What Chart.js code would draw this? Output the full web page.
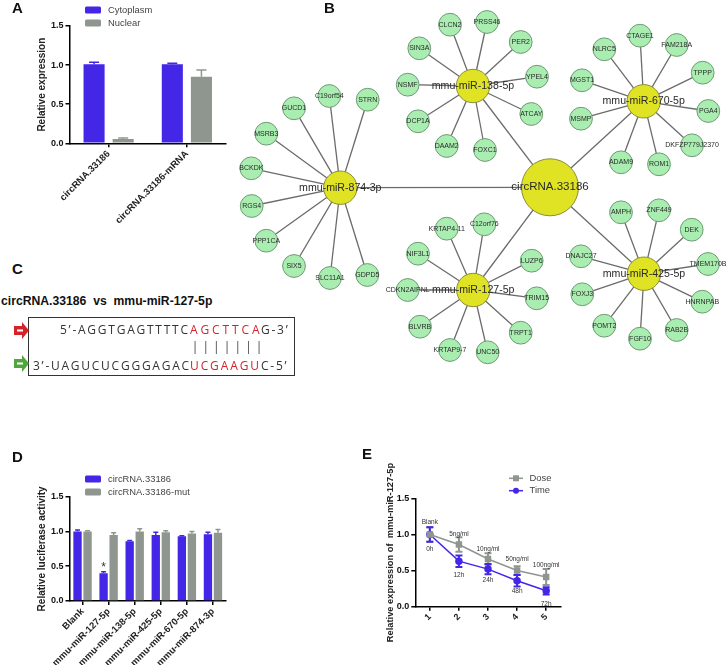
<!DOCTYPE html>
<html>
<head>
<meta charset="utf-8">
<title>circRNA.33186 figure</title>
<script src="https://cdn.jsdelivr.net/npm/chart.js@4"></script>
<style>
  html, body { margin: 0; padding: 0; background: #fff; }
  #page { position: relative; width: 728px; height: 665px; overflow: hidden; font-family: "Liberation Sans", Arial, sans-serif; }
  canvas { position: absolute; }
  .letter { position: absolute; font-weight: bold; font-size: 15px; line-height: 15px; color: #111; }
  #cTitle { position: absolute; left: 1px; top: 294px; font-weight: bold; font-size: 12.2px; line-height: 14px; white-space: pre; color: #111; }
  #cBox { position: absolute; left: 28px; top: 317px; width: 265px; height: 57px; border: 1.5px solid #333; }
  .seq { position: absolute; font-family: "Open Sans", sans-serif; font-size: 12px; line-height: 14px; letter-spacing: 1.75px; white-space: pre; color: #333; }
  .seq.red { color: #d3242c; letter-spacing: 2.9px; }
  svg { position: absolute; }
</style>
</head>
<body>
<div id="page">
  <canvas id="chartB" width="503" height="365" style="left:225px;top:0"></canvas>
  <canvas id="chartA" width="235" height="230" style="left:0;top:0"></canvas>
  <canvas id="chartD" width="235" height="225" style="left:0;top:440px"></canvas>
  <canvas id="chartE" width="225" height="225" style="left:370px;top:440px"></canvas>

  <div class="letter" style="left:12px;top:0">A</div>
  <div class="letter" style="left:324px;top:0">B</div>
  <div class="letter" style="left:12px;top:261px">C</div>
  <div class="letter" style="left:12px;top:449px">D</div>
  <div class="letter" style="left:362px;top:446px">E</div>

  <div id="cTitle">circRNA.33186  vs  mmu-miR-127-5p</div>
  <div id="cBox"></div>
  <div class="seq" style="left:60px;top:323px">5’-AGGTGAGTTTTC</div>
  <div class="seq red" style="left:190px;top:323px">AGCTTCA</div>
  <div class="seq" style="left:261px;top:323px">G-3’</div>
  <div class="seq" style="left:33px;top:359px">3’-UAGUCUCGGGAGAC</div>
  <div class="seq red" style="left:190px;top:359px;letter-spacing:1.9px">UCGAAGU</div>
  <div class="seq" style="left:261px;top:359px">C-5’</div>
  <div class="seq" style="left:191.7px;top:340px;letter-spacing:4.1px;color:#444">|||||||</div>
  <svg style="left:14px;top:322px" width="16" height="17" viewBox="0 0 16 17">
    <polygon points="0,4 8,4 8,0 15,8.5 8,17 8,13 0,13" fill="#d3242c"/>
    <rect x="3" y="7.5" width="6" height="2" fill="#fff"/>
  </svg>
  <svg style="left:14px;top:355px" width="16" height="17" viewBox="0 0 16 17">
    <polygon points="0,4 8,4 8,0 15,8.5 8,17 8,13 0,13" fill="#4fa63d"/>
    <rect x="3" y="7.5" width="6" height="2" fill="#fff"/>
  </svg>
</div>

<script>
'use strict';

// ── Panel A data ──────────────────────────────────────────────────────────────
const fractionCategories = ['circRNA.33186', 'circRNA.33186-mRNA'];
const cytoplasmValues = [1.01, 1.01];
const cytoplasmErrors = [0.026, 0.014];
const nuclearValues = [0.055, 0.852];
const nuclearErrors = [0.013, 0.085];

// ── Panel D data ──────────────────────────────────────────────────────────────
const luciferaseCategories = ['Blank', 'mmu-miR-127-5p', 'mmu-miR-138-5p', 'mmu-miR-425-5p', 'mmu-miR-670-5p', 'mmu-miR-874-3p'];
const wildTypeValues = [1.0, 0.40, 0.86, 0.95, 0.93, 0.96];
const wildTypeErrors = [0.02, 0.02, 0.01, 0.04, 0.01, 0.03];
const mutantValues = [1.0, 0.95, 1.0, 0.99, 0.97, 0.98];
const mutantErrors = [0.01, 0.03, 0.04, 0.02, 0.03, 0.05];

// ── Panel E data ──────────────────────────────────────────────────────────────
const stepCategories = ['1', '2', '3', '4', '5'];
const doseValues = [1.0, 0.86, 0.66, 0.50, 0.41];
const doseErrors = [0.10, 0.10, 0.08, 0.06, 0.11];
const timeValues = [1.0, 0.63, 0.52, 0.36, 0.22];
const timeErrors = [0.10, 0.08, 0.07, 0.08, 0.05];
const doseNotes = ['Blank', '5ng/ml', '10ng/ml', '50ng/ml', '100ng/ml'];
const doseNoteValues = [1.17, 1.01, 0.80, 0.66, 0.58];
const timeNotes = ['0h', '12h', '24h', '48h', '72h'];
const timeNoteValues = [0.80, 0.44, 0.37, 0.22, 0.04];

// ── Panel B data: hubs and their targets, in graph units ──────────────────────
const rootName = 'circRNA.33186';
const rootX = 550;
const rootY = 187.3;

const mir874Name = 'mmu-miR-874-3p';
const mir874Hub = [340.3, 187.7];
const mir874Genes = ['C19orf54', 'STRN', 'GUCD1', 'MSRB3', 'BCKDK', 'RGS4', 'PPP1CA', 'SIX5', 'SLC11A1', 'GDPD5'];
const mir874X = [329.3, 367.7, 294, 266.3, 251.3, 251.7, 266.3, 294, 330, 367.3];
const mir874Y = [96, 99.7, 108.3, 133.7, 168.3, 206, 240.7, 266, 278, 275];

const mir138Name = 'mmu-miR-138-5p';
const mir138Hub = [473, 86];
const mir138Genes = ['CLCN2', 'PRSS46', 'SIN3A', 'PER2', 'NSMF', 'YPEL4', 'DCP1A', 'ATCAY', 'DAAM2', 'FOXC1'];
const mir138X = [450, 487, 419.3, 520.7, 407.7, 537, 418, 531.3, 446.7, 485];
const mir138Y = [24.7, 22, 48.3, 42, 84.7, 76.7, 121.3, 114, 146, 150];

const mir670Name = 'mmu-miR-670-5p';
const mir670Hub = [643.7, 101.3];
const mir670Genes = ['CTAGE1', 'NLRC5', 'FAM218A', 'TPPP', 'MGST1', 'MSMP', 'PGA4', 'DKFZP779J2370', 'ROM1', 'ADAM9'];
const mir670X = [640, 604.3, 676.7, 702.7, 582, 581, 708.3, 692, 659, 621];
const mir670Y = [35.7, 49.3, 45, 72.7, 80.3, 118.7, 111, 145.3, 164.3, 162.3];

const mir127Name = 'mmu-miR-127-5p';
const mir127Hub = [473.3, 290];
const mir127Genes = ['KRTAP4-11', 'C12orf76', 'NIF3L1', 'LUZP6', 'CDKN2AIPNL', 'TRIM15', 'BLVRB', 'TRPT1', 'KRTAP9-7', 'UNC50'];
const mir127X = [446.7, 484.3, 418, 531.7, 407.7, 536.7, 420, 520.7, 450, 487.7];
const mir127Y = [228.7, 224.3, 253.7, 260.7, 290, 298.3, 326.7, 332.7, 350, 352.3];

const mir425Name = 'mmu-miR-425-5p';
const mir425Hub = [644, 273.7];
const mir425Genes = ['AMPH', 'ZNF449', 'DEK', 'TMEM170B', 'DNAJC27', 'FOXJ3', 'HNRNPAB', 'POMT2', 'RAB2B', 'FGF10'];
const mir425X = [621, 659, 691.7, 708, 581, 582.3, 702.3, 604.3, 676.7, 640];
const mir425Y = [212.3, 210.3, 229.7, 264, 256.3, 294.3, 301.7, 325.7, 330, 338.7];

// ── Shared look ───────────────────────────────────────────────────────────────
const BLUE = '#4326e6';
const GREY = '#8f9690';
const FONT = '"Liberation Sans", Arial, sans-serif';

Chart.defaults.font.family = FONT;
Chart.defaults.animation = false;
Chart.defaults.responsive = false;
Chart.defaults.devicePixelRatio = 1;
Chart.defaults.layout.autoPadding = false;
Chart.defaults.plugins.legend.display = false;
Chart.defaults.plugins.tooltip.enabled = false;

function xAxis(height, fontSize) {
  return {
    afterFit: s => { s.height = height; },
    offset: true,
    border: { color: '#000', width: 1.5 },
    grid: { drawOnChartArea: false, offset: false, color: '#000', lineWidth: 1.5, tickLength: 4 },
    ticks: { autoSkip: false, minRotation: 45, maxRotation: 45, padding: 1, color: '#222', font: { size: fontSize, weight: 'bold' } },
  };
}

function yAxis(width, title, titleLeft, titleFont) {
  return {
    min: 0,
    max: 1.5,
    afterFit: s => { s.width = width; },
    border: { color: '#000', width: 1.5 },
    grid: { drawOnChartArea: false, color: '#000', lineWidth: 1.5, tickLength: 4 },
    ticks: { stepSize: 0.5, padding: 2, color: '#111', font: { size: 9, weight: 'bold' }, callback: v => v.toFixed(1) },
    title: { display: true, text: title, color: '#222', font: titleFont, padding: { top: titleLeft - 6, bottom: 0 } },
  };
}

// ── Small plugins ─────────────────────────────────────────────────────────────
function errorBars(errorLists, capHalf, both) {
  return {
    id: 'errorBars',
    beforeDatasetsDraw(chart) {
      const ctx = chart.ctx;
      const y = chart.scales.y;
      errorLists.forEach((errors, i) => {
        const meta = chart.getDatasetMeta(i);
        const data = chart.data.datasets[i].data;
        ctx.strokeStyle = chart.data.datasets[i].borderColor || chart.data.datasets[i].backgroundColor;
        ctx.lineWidth = both ? 2 : 1.5;
        errors.forEach((err, j) => {
          const x = meta.data[j].x;
          const top = y.getPixelForValue(data[j] + err);
          const bottom = y.getPixelForValue(both ? data[j] - err : data[j]);
          ctx.beginPath();
          ctx.moveTo(x, top);
          ctx.lineTo(x, bottom);
          ctx.moveTo(x - capHalf, top);
          ctx.lineTo(x + capHalf, top);
          if (both) {
            ctx.moveTo(x - capHalf, bottom);
            ctx.lineTo(x + capHalf, bottom);
          }
          ctx.stroke();
        });
      });
    },
  };
}

function legendKeys(left, rows, lineStyle) {
  return {
    id: 'legendKeys',
    afterDraw(chart) {
      const ctx = chart.ctx;
      chart.data.datasets.forEach((ds, i) => {
        const color = ds.borderColor || ds.backgroundColor;
        const y = rows[i];
        if (lineStyle) {
          ctx.strokeStyle = color;
          ctx.fillStyle = color;
          ctx.lineWidth = 1.5;
          ctx.beginPath();
          ctx.moveTo(left, y);
          ctx.lineTo(left + 14, y);
          ctx.stroke();
          ctx.beginPath();
          if (ds.pointStyle === 'rect') ctx.rect(left + 4, y - 3, 6, 6);
          else ctx.arc(left + 7, y, 3, 0, Math.PI * 2);
          ctx.fill();
        } else {
          ctx.fillStyle = color;
          ctx.beginPath();
          ctx.roundRect(left, y - 3.5, 16, 7, 1.5);
          ctx.fill();
        }
        ctx.fillStyle = '#444';
        ctx.font = '9.4px ' + FONT;
        ctx.textAlign = 'left';
        ctx.textBaseline = 'middle';
        ctx.fillText(ds.label, left + (lineStyle ? 20.5 : 23), y);
      });
    },
  };
}

const starNote = {
  id: 'starNote',
  afterDatasetsDraw(chart) {
    const el = chart.getDatasetMeta(0).data[1];
    const ctx = chart.ctx;
    ctx.fillStyle = '#333';
    ctx.font = '12px ' + FONT;
    ctx.textAlign = 'center';
    ctx.textBaseline = 'middle';
    ctx.fillText('*', el.x, chart.scales.y.getPixelForValue(0.48));
  },
};

const stepNotes = {
  id: 'stepNotes',
  afterDatasetsDraw(chart) {
    const ctx = chart.ctx;
    const x = chart.scales.x;
    const y = chart.scales.y;
    ctx.fillStyle = '#333';
    ctx.font = '6.5px ' + FONT;
    ctx.textAlign = 'center';
    ctx.textBaseline = 'middle';
    doseNotes.forEach((t, i) => ctx.fillText(t, x.getPixelForValue(i), y.getPixelForValue(doseNoteValues[i])));
    timeNotes.forEach((t, i) => ctx.fillText(t, x.getPixelForValue(i), y.getPixelForValue(timeNoteValues[i])));
  },
};

// ── Panel A ───────────────────────────────────────────────────────────────────
new Chart(document.getElementById('chartA'), {
  type: 'bar',
  data: {
    labels: fractionCategories,
    datasets: [
      { label: 'Cytoplasm', data: cytoplasmValues, backgroundColor: BLUE, categoryPercentage: 0.744, barPercentage: 0.724 },
      { label: 'Nuclear', data: nuclearValues, backgroundColor: GREY, categoryPercentage: 0.744, barPercentage: 0.724 },
    ],
  },
  options: {
    layout: { padding: { top: 26, right: 9 } },
    scales: {
      x: xAxis(86.7, 9.5),
      y: yAxis(69.5, 'Relative expression', 42, { size: 10, weight: 'bold' }),
    },
  },
  plugins: [errorBars([cytoplasmErrors, nuclearErrors], 5, false), legendKeys(85, [10, 23], false)],
});

// ── Panel D ───────────────────────────────────────────────────────────────────
new Chart(document.getElementById('chartD'), {
  type: 'bar',
  data: {
    labels: luciferaseCategories,
    datasets: [
      { label: 'circRNA.33186', data: wildTypeValues, backgroundColor: BLUE, categoryPercentage: 0.77, barPercentage: 0.83 },
      { label: 'circRNA.33186-mut', data: mutantValues, backgroundColor: GREY, categoryPercentage: 0.77, barPercentage: 0.83 },
    ],
  },
  options: {
    layout: { padding: { top: 56.7, right: 9 } },
    scales: {
      x: xAxis(64, 9.5),
      y: yAxis(69.5, 'Relative luciferase activity', 42, { size: 10, weight: 'bold' }),
    },
  },
  plugins: [errorBars([wildTypeErrors, mutantErrors], 2.5, false), legendKeys(85, [39, 52], false), starNote],
});

// ── Panel E ───────────────────────────────────────────────────────────────────
new Chart(document.getElementById('chartE'), {
  type: 'line',
  data: {
    labels: stepCategories,
    datasets: [
      { label: 'Dose', data: doseValues, borderColor: GREY, backgroundColor: GREY, borderWidth: 1.5, pointStyle: 'rect', pointRadius: 3.5, tension: 0 },
      { label: 'Time', data: timeValues, borderColor: BLUE, backgroundColor: BLUE, borderWidth: 1.5, pointStyle: 'circle', pointRadius: 3, tension: 0 },
    ],
  },
  options: {
    layout: { padding: { top: 58.3, right: 34.3 } },
    scales: {
      x: xAxis(58.3, 9),
      y: yAxis(45.3, 'Relative expression of  mmu-miR-127-5p', 20.7, { size: 9.3, weight: 'bold' }),
    },
  },
  plugins: [errorBars([doseErrors, timeErrors], 3.5, true), legendKeys(139, [38.3, 50.7], true), stepNotes],
});

// ── Panel B ───────────────────────────────────────────────────────────────────
const hubGroups = [
  { name: mir874Name, hub: mir874Hub, genes: mir874Genes, xs: mir874X, ys: mir874Y },
  { name: mir138Name, hub: mir138Hub, genes: mir138Genes, xs: mir138X, ys: mir138Y },
  { name: mir670Name, hub: mir670Hub, genes: mir670Genes, xs: mir670X, ys: mir670Y },
  { name: mir127Name, hub: mir127Hub, genes: mir127Genes, xs: mir127X, ys: mir127Y },
  { name: mir425Name, hub: mir425Hub, genes: mir425Genes, xs: mir425X, ys: mir425Y },
];

function edge(from, to) {
  return {
    type: 'line', data: [from, to], parsing: false, order: 5,
    borderColor: '#6b6b6b', borderWidth: 1.3, pointRadius: 0, tension: 0,
  };
}

const networkSets = [];
hubGroups.forEach(g => {
  const hubPoint = { x: g.hub[0], y: g.hub[1] };
  networkSets.push(edge({ x: rootX, y: rootY }, hubPoint));
  g.genes.forEach((_, i) => networkSets.push(edge(hubPoint, { x: g.xs[i], y: g.ys[i] })));
});
networkSets.push({
  data: hubGroups.flatMap(g => g.genes.map((name, i) => ({ x: g.xs[i], y: g.ys[i], name }))),
  order: 2, pointRadius: 11.4, backgroundColor: '#a9edb1', borderColor: '#6f9a76', borderWidth: 1,
});
networkSets.push({
  data: hubGroups.map(g => ({ x: g.hub[0], y: g.hub[1], name: g.name })),
  order: 1, pointRadius: 16.7, backgroundColor: '#dfe323', borderColor: '#8a8c40', borderWidth: 1,
});
networkSets.push({
  data: [{ x: rootX, y: rootY, name: rootName }],
  order: 0, pointRadius: 28.5, backgroundColor: '#dfe323', borderColor: '#8a8c40', borderWidth: 1,
});

const nodeLabels = {
  id: 'nodeLabels',
  afterDatasetsDraw(chart) {
    const ctx = chart.ctx;
    ctx.textAlign = 'center';
    ctx.textBaseline = 'middle';
    ctx.fillStyle = '#2a2a2a';
    const sizes = [7, 10.6, 11.5];
    sizes.forEach((size, k) => {
      const setIndex = networkSets.length - 3 + k;
      ctx.font = size + 'px ' + FONT;
      chart.data.datasets[setIndex].data.forEach((p, i) => {
        const el = chart.getDatasetMeta(setIndex).data[i];
        ctx.fillText(p.name, el.x, el.y);
      });
    });
  },
};

new Chart(document.getElementById('chartB'), {
  type: 'scatter',
  data: { datasets: networkSets },
  options: {
    layout: { padding: 0 },
    scales: {
      x: { type: 'linear', min: 225, max: 728, display: false },
      y: { type: 'linear', min: 0, max: 365, reverse: true, display: false },
    },
  },
  plugins: [nodeLabels],
});
</script>
</body>
</html>
